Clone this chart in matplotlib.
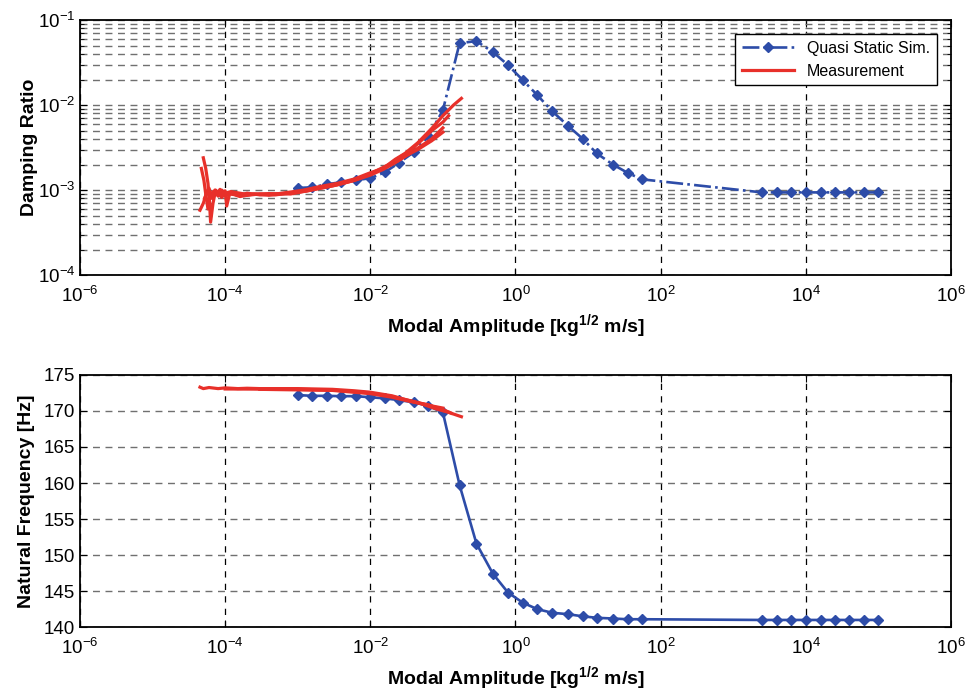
import numpy as np
import matplotlib
matplotlib.use("Agg")
import matplotlib.pyplot as plt
from matplotlib.ticker import LogLocator, NullLocator, NullFormatter

plt.rcParams['font.family'] = ['Liberation Sans', 'DejaVu Sans']
plt.rcParams['mathtext.fontset'] = 'custom'
plt.rcParams['mathtext.rm'] = 'Liberation Sans'
plt.rcParams['mathtext.bf'] = 'Liberation Sans:bold'
plt.rcParams['mathtext.default'] = 'regular'

BLUE = '#2d4ca8'
RED = '#e8302a'

# quasi static simulation
sim_amp = [1e-3, 1.58e-3, 2.5e-3, 3.98e-3, 6.3e-3, 1e-2, 1.58e-2, 2.5e-2, 3.98e-2, 6.3e-2, 0.1,
           0.17, 0.29, 0.49, 0.79, 1.26, 2.0, 3.2, 5.3, 8.5, 13.2, 22, 35, 55,
           2.5e3, 4e3, 6.3e3, 1e4, 1.6e4, 2.5e4, 4e4, 6.3e4, 1e5]
sim_damp = [1.06e-3, 1.08e-3, 1.17e-3, 1.24e-3, 1.31e-3, 1.38e-3, 1.62e-3, 2.1e-3, 2.8e-3, 4.3e-3, 8.7e-3,
            0.0536, 0.0566, 0.042, 0.0296, 0.0197, 0.0131, 0.0085, 0.0057, 0.0040, 0.0027, 0.0020, 0.0016, 0.00134,
            9.4e-4, 9.4e-4, 9.4e-4, 9.4e-4, 9.4e-4, 9.4e-4, 9.4e-4, 9.4e-4, 9.4e-4]
sim_freq = [172.2, 172.1, 172.1, 172.05, 172.05, 171.9, 171.75, 171.5, 171.2, 170.7, 169.8,
            159.7, 151.6, 147.4, 144.8, 143.4, 142.5, 142.0, 141.8, 141.5, 141.3, 141.2, 141.1, 141.1,
            141.0, 141.0, 141.0, 141.0, 141.0, 141.0, 141.0, 141.0, 141.0]

# measured damping ratio (several runs)
meas_damp_amp = [
    [5.0e-5, 5.4e-5, 5.8e-5, 6.1e-5, 6.3e-5, 6.8e-5, 7.4e-5, 8e-5, 9e-5, 1.0e-4, 1.2e-4, 1.5e-4, 2e-4, 3e-4,
     5e-4, 8e-4, 1.2e-3, 2e-3, 3.5e-3, 6e-3, 1e-2, 1.5e-2, 2.2e-2, 3e-2, 4.5e-2, 7e-2, 0.1, 0.14, 0.18],
    [4.5e-5, 5.0e-5, 5.5e-5, 6e-5, 6.6e-5, 7.2e-5, 8e-5, 9e-5, 1.0e-4, 1.05e-4, 1.15e-4, 1.4e-4, 2e-4, 3e-4,
     5e-4, 8e-4, 1.3e-3, 2e-3, 3.5e-3, 6e-3, 1e-2, 1.6e-2, 2.3e-2, 3.5e-2, 5e-2, 7e-2, 0.1, 0.12],
    [4.7e-5, 5.1e-5, 5.4e-5, 5.8e-5, 6.2e-5, 6.8e-5, 7.5e-5, 8.5e-5, 9.5e-5, 1.2e-4, 1.6e-4, 2.5e-4, 4e-4,
     7e-4, 1.1e-3, 2e-3, 4e-3, 7e-3, 1.1e-2, 1.7e-2, 2.4e-2, 3.5e-2, 5e-2, 7e-2, 0.1],
    [5.2e-5, 5.8e-5, 6.5e-5, 7.5e-5, 9e-5, 1.2e-4, 2e-4, 4e-4, 8e-4, 1.5e-3, 3e-3, 6e-3, 1e-2, 1.5e-2,
     2.2e-2, 3e-2, 4.5e-2, 7e-2, 0.1],
]
meas_damp = [
    [2.4e-3, 1.8e-3, 1.2e-3, 7e-4, 4.2e-4, 7e-4, 1.0e-3, 8.5e-4, 1.0e-3, 8.8e-4, 9.4e-4, 8.6e-4, 9.2e-4, 8.8e-4,
     9.0e-4, 9.5e-4, 1.0e-3, 1.1e-3, 1.2e-3, 1.35e-3, 1.6e-3, 1.8e-3, 2.3e-3, 2.7e-3, 3.6e-3, 5.3e-3, 7.5e-3, 1.0e-2, 1.2e-2],
    [5.8e-4, 7e-4, 9e-4, 1.05e-3, 8e-4, 1.0e-3, 9.2e-4, 8.2e-4, 9.8e-4, 6.5e-4, 9e-4, 8.8e-4, 8.7e-4, 9e-4,
     8.8e-4, 9.3e-4, 9.7e-4, 1.05e-3, 1.15e-3, 1.3e-3, 1.55e-3, 1.85e-3, 2.3e-3, 2.9e-3, 3.8e-3, 5e-3, 6.3e-3, 7.5e-3],
    [1.8e-3, 1.3e-3, 9e-4, 6e-4, 8.5e-4, 9.6e-4, 8.8e-4, 1.02e-3, 8.6e-4, 9.2e-4, 8.4e-4, 9e-4, 8.7e-4,
     9.2e-4, 9.6e-4, 1.08e-3, 1.2e-3, 1.38e-3, 1.62e-3, 1.95e-3, 2.2e-3, 2.7e-3, 3.3e-3, 4e-3, 5.4e-3],
    [8e-4, 1.0e-3, 8.7e-4, 9.8e-4, 9e-4, 9.6e-4, 8.9e-4, 9.1e-4, 9e-4, 1.0e-3, 1.12e-3, 1.3e-3, 1.5e-3, 1.75e-3,
     2.1e-3, 2.5e-3, 3.0e-3, 3.8e-3, 4.8e-3],
]

# measured natural frequency
meas_freq_amp = [
    [4.5e-5, 5e-5, 6e-5, 8e-5, 1e-4, 1.5e-4, 2e-4, 3e-4, 1e-3, 3e-3, 6e-3, 1e-2, 2e-2, 3e-2, 5e-2, 8e-2, 0.12, 0.18],
    [1e-4, 1e-3, 3e-3, 1e-2, 2e-2, 4e-2, 7e-2, 0.1],
    [3e-4, 3e-3, 1e-2, 2e-2, 4e-2, 6e-2, 0.1, 0.13],
]
meas_freq = [
    [173.3, 173.1, 173.25, 173.1, 173.2, 173.1, 173.15, 173.1, 173.1, 173.0, 172.8, 172.6, 172.1, 171.6, 171.0, 170.3, 169.8, 169.2],
    [173.05, 173.0, 172.9, 172.5, 172.0, 171.3, 170.7, 170.4],
    [173.0, 172.85, 172.4, 171.9, 171.2, 170.9, 170.2, 169.7],
]

x_ticks = [1e-6, 1e-4, 1e-2, 1e0, 1e2, 1e4, 1e6]
freq_ticks = [140, 145, 150, 155, 160, 165, 170, 175]

fig = plt.figure(figsize=(9.72, 6.93), dpi=100)
ax1 = fig.add_axes([0.0823, 0.603, 0.896, 0.368])
ax2 = fig.add_axes([0.0823, 0.095, 0.896, 0.364])

xlabel = r'Modal Amplitude [kg$^{\mathbf{1/2}}$ m/s]'

# damping ratio
ax1.plot(sim_amp, sim_damp, linestyle='-.', color=BLUE, lw=1.9, marker='D', ms=5.5,
         label='Quasi Static Sim.')
for i, (a, d) in enumerate(zip(meas_damp_amp, meas_damp)):
    ax1.plot(a, d, color=RED, lw=2.3, label='Measurement' if i == 0 else None)
ax1.set_xscale('log')
ax1.set_yscale('log')
ax1.set_xlim(1e-6, 1e6)
ax1.set_ylim(1e-4, 1e-1)
ax1.set_xticks(x_ticks)
ax1.xaxis.set_minor_locator(NullLocator())
ax1.yaxis.set_major_locator(LogLocator(base=10))
ax1.yaxis.set_minor_locator(LogLocator(base=10, subs=np.arange(2, 10)))
ax1.yaxis.set_minor_formatter(NullFormatter())
ax1.grid(True, axis='x', which='major', linestyle=(0, (5, 5)), color='black', lw=0.9)
ax1.grid(True, axis='y', which='both', linestyle=(0, (5, 4)), color='#707070', lw=1.0)
ax1.set_ylabel('Damping Ratio', fontsize=14, fontweight='bold', labelpad=0)
ax1.set_xlabel(xlabel, fontsize=14, fontweight='bold', labelpad=4)
leg = ax1.legend(loc='upper right', fontsize=11.5, fancybox=False, framealpha=1,
                 edgecolor='black', handlelength=3.3, borderaxespad=0.9)
leg.get_frame().set_linewidth(1.0)

# natural frequency
ax2.plot(sim_amp, sim_freq, linestyle='-', color=BLUE, lw=1.9, marker='D', ms=5.5)
for a, f in zip(meas_freq_amp, meas_freq):
    ax2.plot(a, f, color=RED, lw=2.3)
ax2.set_xscale('log')
ax2.set_xlim(1e-6, 1e6)
ax2.set_ylim(140, 175)
ax2.set_xticks(x_ticks)
ax2.xaxis.set_minor_locator(NullLocator())
ax2.set_yticks(freq_ticks)
ax2.grid(True, axis='x', which='major', linestyle=(0, (5, 5)), color='black', lw=0.9)
ax2.grid(True, axis='y', which='major', linestyle=(0, (5, 4)), color='#707070', lw=1.0)
ax2.set_ylabel('Natural Frequency [Hz]', fontsize=14, fontweight='bold', labelpad=6)
ax2.set_xlabel(xlabel, fontsize=14, fontweight='bold', labelpad=4)

for ax in (ax1, ax2):
    ax.set_axisbelow(True)
    for s in ax.spines.values():
        s.set_linewidth(1.3)
    ax.tick_params(which='both', direction='in', top=True, right=True, labelsize=13.5)
    ax.tick_params(which='major', length=5)
    ax.tick_params(which='minor', length=3)
    ax.tick_params(axis='x', pad=8)

fig.savefig('out.png', dpi=100)
